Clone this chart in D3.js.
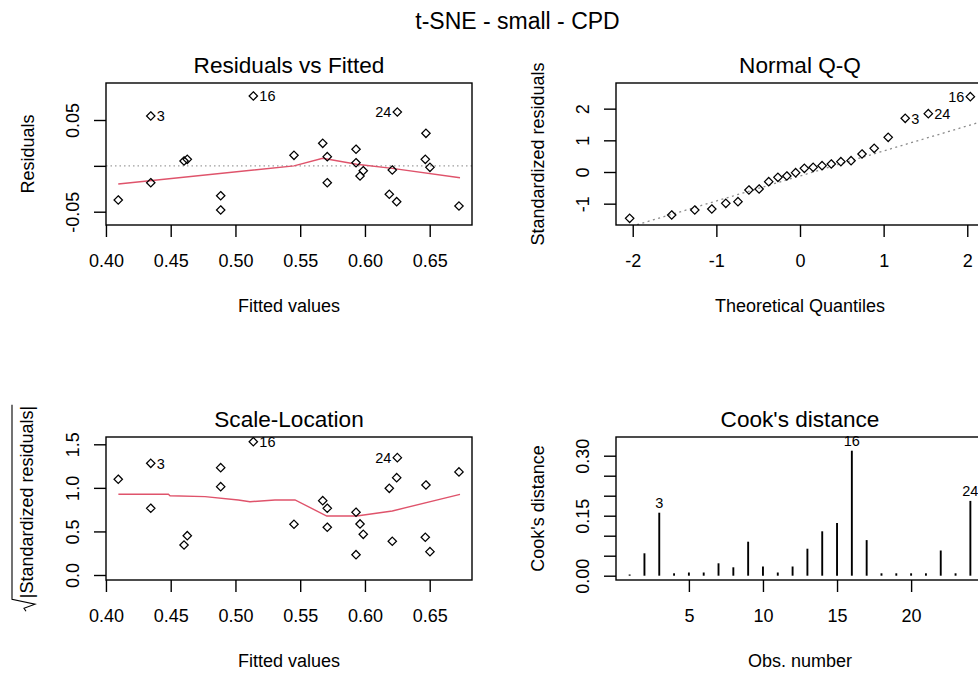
<!DOCTYPE html>
<html>
<head>
<meta charset="utf-8">
<script src="https://cdn.jsdelivr.net/npm/d3@7/dist/d3.min.js"></script>
<style>
  html, body { margin: 0; padding: 0; background: #fff; overflow: hidden; }
  svg { display: block; font-family: "Liberation Sans", Arial, sans-serif; }
</style>
</head>
<body>
<svg id="chart" width="978" height="673"></svg>
<script>
// ---------------- data ----------------
const mainTitle = "t-SNE - small - CPD";

// Residuals vs Fitted / Scale-Location (points sorted by fitted value)
const fitted = [0.4095, 0.4346, 0.4346, 0.4603, 0.4628, 0.4886, 0.4886, 0.5138, 0.5452, 0.5674, 0.5709, 0.5709,
                0.5931, 0.5931, 0.5962, 0.5987, 0.6188, 0.6211, 0.6245, 0.6250, 0.6466, 0.6471, 0.6502, 0.6726];
const residuals = [-0.0372, 0.0544, -0.0184, 0.0053, 0.0071, -0.0326, -0.0481, 0.0762, 0.0115, 0.0246, 0.0100, -0.0184,
                   0.0181, 0.0034, -0.0111, -0.0053, -0.0310, -0.0045, -0.0391, 0.0587, 0.0071, 0.0355, -0.0016, -0.0438];
const sqrtStdResid = [1.099, 1.282, 0.766, 0.344, 0.451, 1.014, 1.232, 1.530, 0.582, 0.853, 0.548, 0.766,
                      0.720, 0.233, 0.586, 0.467, 0.995, 0.387, 1.117, 1.347, 0.433, 1.033, 0.268, 1.183];
const labelIndex = [1, 7, 19];          // positions in the arrays above
const labelText  = ["3", "16", "24"];

// smoother lines
const resSmoothX = [0.4095, 0.5452, 0.5674, 0.5936, 0.6211, 0.6734];
const resSmoothY = [-0.0198, 0.0000, 0.0082, 0.0017, -0.0027, -0.0129];
const slSmoothX = [0.4096, 0.4482, 0.4495, 0.4765, 0.5022, 0.5112, 0.5305, 0.5460, 0.5705, 0.5936, 0.6211, 0.6734];
const slSmoothY = [0.926, 0.926, 0.910, 0.899, 0.861, 0.841, 0.861, 0.861, 0.677, 0.677, 0.735, 0.926];

// Normal Q-Q
const theoQuant = [-2.0368, -1.5341, -1.2581, -1.0546, -0.8871, -0.7416, -0.6106, -0.4888, -0.3741, -0.2637, -0.1573, -0.0522,
                   0.0522, 0.1573, 0.2637, 0.3741, 0.4888, 0.6106, 0.7416, 0.8871, 1.0546, 1.2581, 1.5341, 2.0368];
const stdResidSorted = [-1.463, -1.358, -1.200, -1.168, -0.990, -0.937, -0.568, -0.537, -0.305, -0.168, -0.126, -0.021,
                        0.116, 0.147, 0.200, 0.253, 0.326, 0.358, 0.568, 0.747, 1.095, 1.695, 1.842, 2.379];
const qqLabelIndex = [21, 22, 23];
const qqLabelText  = ["3", "24", "16"];
const qqLineX = [-2.2, 2.2];
const qqLineY = [-1.863, 1.613];

// Cook's distance
const obsNumber = d3.range(1, 25);
const cooksD = [0.003, 0.056, 0.1575, 0.006, 0.008, 0.008, 0.031, 0.021, 0.085, 0.023, 0.008, 0.023,
                0.0675, 0.111, 0.132, 0.3125, 0.089, 0.006, 0.006, 0.006, 0.006, 0.063, 0.006, 0.187];
const cookLabelObs = [3, 16, 24];

// axis ticks
const fittedTicks = [0.40, 0.45, 0.50, 0.55, 0.60, 0.65];
const fittedTickLabels = ["0.40", "0.45", "0.50", "0.55", "0.60", "0.65"];
const residTicks = [-0.05, 0, 0.05];
const residTickLabels = ["-0.05", "", "0.05"];
const qqXTicks = [-2, -1, 0, 1, 2];
const qqXTickLabels = ["-2", "-1", "0", "1", "2"];
const qqYTicks = [-1, 0, 1, 2];
const qqYTickLabels = ["-1", "0", "1", "2"];
const slYTicks = [0, 0.5, 1.0, 1.5];
const slYTickLabels = ["0.0", "0.5", "1.0", "1.5"];
const cookXTicks = [5, 10, 15, 20];
const cookXTickLabels = ["5", "10", "15", "20"];
const cookYTicks = [0, 0.05, 0.10, 0.15, 0.20, 0.25, 0.30];
const cookYTickLabels = ["0.00", "", "", "0.15", "", "", "0.30"];

// ---------------- layout ----------------
const svg = d3.select("#chart");
const red = "#DF536B";
const LW = 1.4;
const cols = [{x0: 106, x1: 472}, {x0: 616, x1: 984}];
const rows = [{y0: 83, y1: 225}, {y0: 437, y1: 580}];

svg.append("text").attr("x", 517.5).attr("y", 29).attr("text-anchor", "middle")
  .attr("font-size", 23).text(mainTitle);

function panel(col, row, xDomain, yDomain, title, xlab, ylab) {
  const c = cols[col], r = rows[row];
  const g = svg.append("g");
  const x = d3.scaleLinear().domain(xDomain).range([c.x0, c.x1]);
  const y = d3.scaleLinear().domain(yDomain).range([r.y1, r.y0]);
  const clipId = "clip" + col + row;
  svg.append("clipPath").attr("id", clipId).append("rect")
    .attr("x", c.x0).attr("y", r.y0).attr("width", c.x1 - c.x0).attr("height", r.y1 - r.y0);
  const inner = g.append("g").attr("clip-path", `url(#${clipId})`);
  g.append("rect").attr("x", c.x0).attr("y", r.y0).attr("width", c.x1 - c.x0).attr("height", r.y1 - r.y0)
    .attr("fill", "none").attr("stroke", "#000").attr("stroke-width", LW);
  g.append("text").attr("x", (c.x0 + c.x1) / 2).attr("y", r.y0 - 10).attr("text-anchor", "middle")
    .attr("font-size", 22.6).text(title);
  g.append("text").attr("x", (c.x0 + c.x1) / 2).attr("y", r.y1 + 87).attr("text-anchor", "middle")
    .attr("font-size", 18).text(xlab);
  if (typeof ylab === "string") {
    g.append("text").attr("transform", `translate(${c.x0 - 72},${(r.y0 + r.y1) / 2}) rotate(-90)`)
      .attr("text-anchor", "middle").attr("font-size", 18).text(ylab);
  }
  return {g, inner, x, y, c, r};
}

function xAxis(p, ticks, labels) {
  const ax = p.g.append("g").attr("transform", `translate(0,${p.r.y1})`)
    .call(d3.axisBottom(p.x).tickValues(ticks).tickFormat((d, i) => labels[i]).tickSize(12));
  ax.select(".domain").remove();
  ax.selectAll("line").attr("stroke", "#000").attr("stroke-width", LW);
  ax.selectAll("text").attr("y", 41.5).attr("dy", 0).attr("font-size", 18)
    .attr("font-family", "Liberation Sans, Arial, sans-serif").attr("fill", "#000");
}
function yAxis(p, ticks, labels) {
  const ax = p.g.append("g").attr("transform", `translate(${p.c.x0},0)`)
    .call(d3.axisLeft(p.y).tickValues(ticks).tickFormat((d, i) => labels[i]).tickSize(12));
  ax.select(".domain").remove();
  ax.selectAll("line").attr("stroke", "#000").attr("stroke-width", LW);
  ax.selectAll("text").attr("x", null).attr("dy", 0).attr("text-anchor", "middle")
    .attr("transform", "translate(-27,0) rotate(-90)").attr("font-size", 18)
    .attr("font-family", "Liberation Sans, Arial, sans-serif").attr("fill", "#000");
}
function diamonds(p, xs, ys) {
  const s = 4.2;
  p.inner.selectAll(null).data(d3.range(xs.length)).join("path")
    .attr("d", i => {
      const px = p.x(xs[i]), py = p.y(ys[i]);
      return `M${px},${py - s}L${px + s},${py}L${px},${py + s}L${px - s},${py}Z`;
    })
    .attr("fill", "none").attr("stroke", "#000").attr("stroke-width", 1.25);
}
function idLabels(p, xs, ys, idx, txt, sides) {
  idx.forEach((k, j) => {
    const left = sides[j] === "L";
    p.g.append("text").attr("x", p.x(xs[k]) + (left ? -6 : 6)).attr("y", p.y(ys[k]))
      .attr("dy", "0.36em").attr("text-anchor", left ? "end" : "start")
      .attr("font-size", 14.5).text(txt[j]);
  });
}

// ---------- Residuals vs Fitted ----------
{
  const p = panel(0, 0, [0.40004, 0.68266], [-0.0645, 0.09035], "Residuals vs Fitted", "Fitted values", "Residuals");
  xAxis(p, fittedTicks, fittedTickLabels);
  yAxis(p, residTicks, residTickLabels);
  p.inner.append("line").attr("x1", p.c.x0).attr("x2", p.c.x1).attr("y1", p.y(0)).attr("y2", p.y(0))
    .attr("stroke", "#9e9e9e").attr("stroke-width", 1.3).attr("stroke-dasharray", "1.5,3");
  p.inner.append("path").datum(d3.range(resSmoothX.length))
    .attr("d", d3.line().x(i => p.x(resSmoothX[i])).y(i => p.y(resSmoothY[i])))
    .attr("fill", "none").attr("stroke", red).attr("stroke-width", 1.4);
  diamonds(p, fitted, residuals);
  idLabels(p, fitted, residuals, labelIndex, labelText, ["R", "R", "L"]);
}

// ---------- Normal Q-Q ----------
{
  const p = panel(1, 0, [-2.2, 2.2], [-1.6735, 2.81], "Normal Q-Q", "Theoretical Quantiles", "Standardized residuals");
  xAxis(p, qqXTicks, qqXTickLabels);
  yAxis(p, qqYTicks, qqYTickLabels);
  p.inner.append("line").attr("x1", p.x(qqLineX[0])).attr("x2", p.x(qqLineX[1]))
    .attr("y1", p.y(qqLineY[0])).attr("y2", p.y(qqLineY[1]))
    .attr("stroke", "#8a8a8a").attr("stroke-width", 1.3).attr("stroke-dasharray", "2,3.5");
  diamonds(p, theoQuant, stdResidSorted);
  idLabels(p, theoQuant, stdResidSorted, qqLabelIndex, qqLabelText, ["R", "R", "L"]);
}

// ---------- Scale-Location ----------
{
  const p = panel(0, 1, [0.40004, 0.68266], [-0.0574, 1.5838], "Scale-Location", "Fitted values", null);
  xAxis(p, fittedTicks, fittedTickLabels);
  yAxis(p, slYTicks, slYTickLabels);
  // sqrt(|Standardized residuals|) label
  const cy = (p.r.y0 + p.r.y1) / 2;
  const lab = p.g.append("g").attr("transform", `translate(${p.c.x0 - 73},${cy}) rotate(-90)`);
  const t = lab.append("text").attr("font-size", 18).attr("text-anchor", "start").text("|Standardized residuals|");
  const L = t.node().getComputedTextLength();
  const rw = 13, total = L + rw, x0 = -total / 2;
  t.attr("x", x0 + rw);
  lab.append("path")
    .attr("d", `M${x0},-7 L${x0 + 3},-9 L${x0 + 7},2 L${x0 + rw - 1},-21 L${x0 + total + 1},-21`)
    .attr("fill", "none").attr("stroke", "#000").attr("stroke-width", 1.1);
  p.inner.append("path").datum(d3.range(slSmoothX.length))
    .attr("d", d3.line().x(i => p.x(slSmoothX[i])).y(i => p.y(slSmoothY[i])))
    .attr("fill", "none").attr("stroke", red).attr("stroke-width", 1.4);
  diamonds(p, fitted, sqrtStdResid);
  idLabels(p, fitted, sqrtStdResid, labelIndex, labelText, ["R", "R", "L"]);
}

// ---------- Cook's distance ----------
{
  const p = panel(1, 1, [0.08, 24.92], [-0.01075, 0.34675], "Cook's distance", "Obs. number", "Cook's distance");
  xAxis(p, cookXTicks, cookXTickLabels);
  yAxis(p, cookYTicks, cookYTickLabels);
  p.inner.selectAll(null).data(d3.range(obsNumber.length)).join("line")
    .attr("x1", i => p.x(obsNumber[i])).attr("x2", i => p.x(obsNumber[i]))
    .attr("y1", p.y(0)).attr("y2", i => p.y(cooksD[i]))
    .attr("stroke", "#000").attr("stroke-width", 1.9);
  cookLabelObs.forEach(o => {
    p.g.append("text").attr("x", p.x(o)).attr("y", p.y(cooksD[o - 1]) - 4.5)
      .attr("text-anchor", "middle").attr("font-size", 14.5).text(String(o));
  });
}
</script>
</body>
</html>
